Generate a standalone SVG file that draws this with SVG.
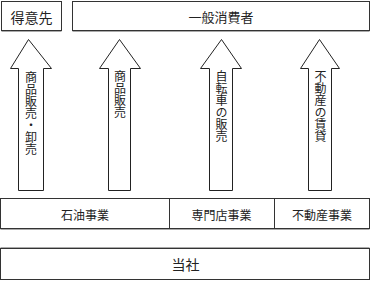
<svg xmlns="http://www.w3.org/2000/svg" width="371" height="281" viewBox="0 0 371 281">
<style>
.box{fill:#fff;stroke:#333;stroke-width:1}
.sh{stroke:#aaa;stroke-width:1}
.arr{fill:#fff;stroke:#222;stroke-width:1}
text{font-family:"Noto Sans CJK JP","Noto Sans",sans-serif;fill:#222;text-anchor:middle;dominant-baseline:central}
.v{writing-mode:vertical-rl;text-anchor:start;font-size:12px}
</style>
<rect width="371" height="281" fill="#fff"/>
<g id="tokuisaki">
<rect class="box" x="1.5" y="1.5" width="60" height="29"/>
<line class="sh" x1="1.5" y1="31.5" x2="61.5" y2="31.5"/>
<text x="31.5" y="16.5" font-size="14">得意先</text>
</g>
<g id="ippan">
<rect class="box" x="72.5" y="1.5" width="297" height="29"/>
<line class="sh" x1="72.5" y1="31.5" x2="369.5" y2="31.5"/>
<text x="221" y="16.5" font-size="13">一般消費者</text>
</g>
<g id="connectors">
<path class="arr" d="M28.5,39.5 L51.5,68.5 L43.5,68.5 L43.5,190.5 L18.5,190.5 L18.5,68.5 L10.5,68.5 Z"/>
<path class="arr" d="M119.5,39.5 L140.5,68.5 L130.5,68.5 L130.5,190.5 L108.5,190.5 L108.5,68.5 L99.5,68.5 Z"/>
<path class="arr" d="M221.5,39.5 L241.5,68.5 L232.5,68.5 L232.5,190.5 L209.5,190.5 L209.5,68.5 L200.5,68.5 Z"/>
<path class="arr" d="M319.5,39.5 L339.5,68.5 L331.5,68.5 L331.5,190.5 L308.5,190.5 L308.5,68.5 L300.5,68.5 Z"/>
<text class="v" x="31" y="71">商品販売・卸売</text>
<text class="v" x="120" y="70">商品販売</text>
<text class="v" x="221.5" y="70">自転車の販売</text>
<text class="v" x="320.5" y="70">不動産の賃貸</text>
</g>
<g id="jigyou">
<rect class="box" x="0.5" y="198.5" width="369" height="30"/>
<line class="sh" x1="0.5" y1="229.5" x2="369.5" y2="229.5"/>
<line stroke="#333" x1="169.5" y1="198.5" x2="169.5" y2="228.5"/>
<line stroke="#333" x1="274.5" y1="198.5" x2="274.5" y2="228.5"/>
<text x="85" y="214" font-size="12">石油事業</text>
<text x="221.5" y="214" font-size="12">専門店事業</text>
<text x="322" y="214" font-size="12">不動産事業</text>
</g>
<g id="tousha">
<line class="sh" x1="0.5" y1="247.5" x2="369.5" y2="247.5"/>
<rect class="box" x="0.5" y="248.5" width="369" height="31"/>
<text x="185.5" y="264" font-size="14">当社</text>
</g>
</svg>
